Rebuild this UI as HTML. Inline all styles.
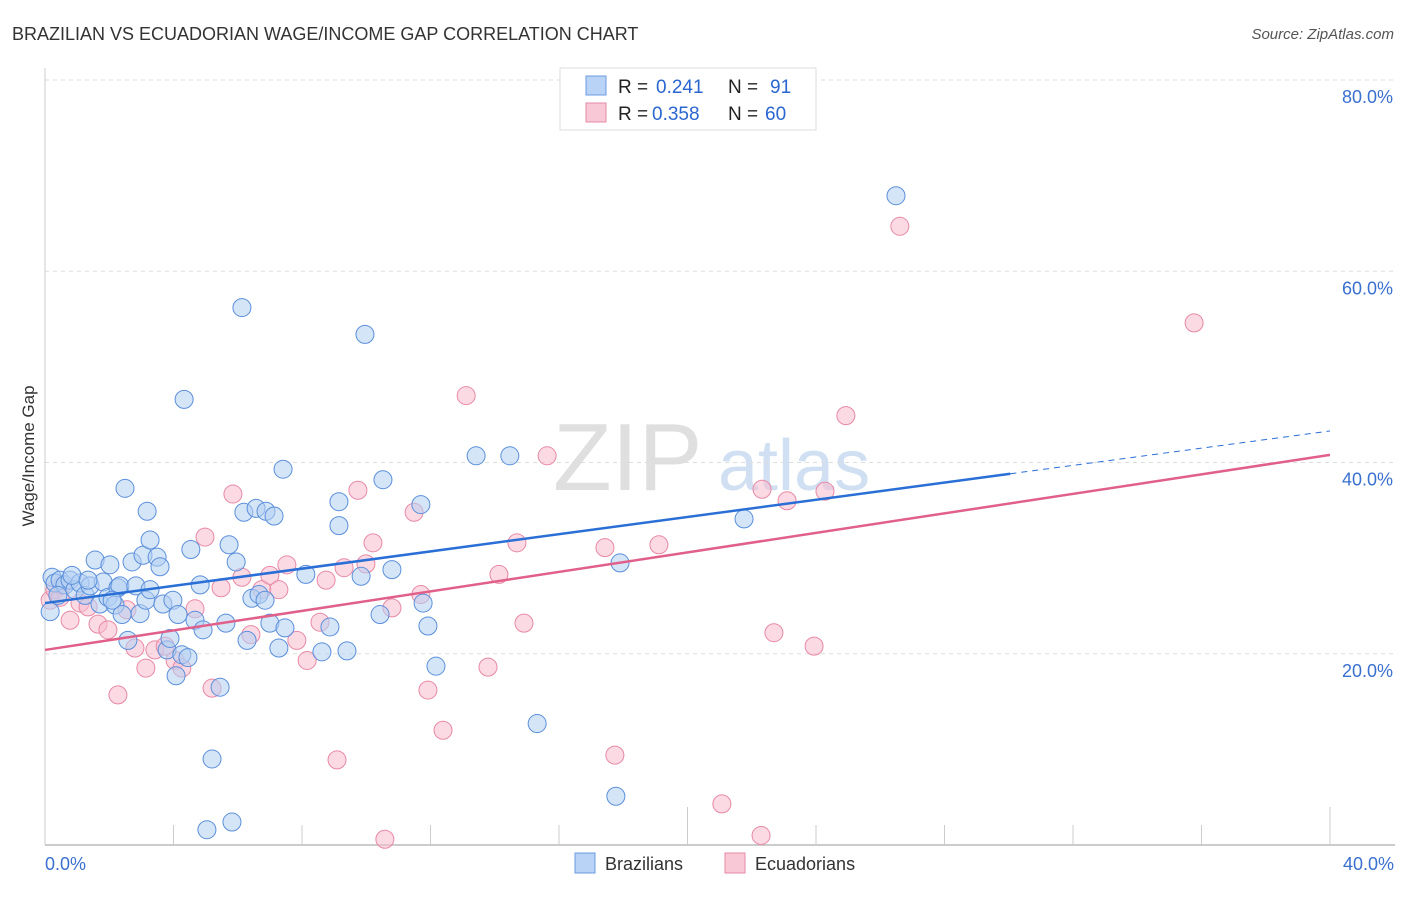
<!DOCTYPE html>
<html><head><meta charset="utf-8"><style>
body{margin:0;background:#fff;font-family:"Liberation Sans",sans-serif;}
svg text{font-family:"Liberation Sans",sans-serif;}
</style></head><body>
<svg id="chart" width="1406" height="892" xmlns="http://www.w3.org/2000/svg">
<text x="12" y="40" font-size="18" fill="#333">BRAZILIAN VS ECUADORIAN WAGE/INCOME GAP CORRELATION CHART</text>
<text x="1394" y="39" font-size="15" fill="#555" text-anchor="end" font-style="italic">Source: ZipAtlas.com</text>
<text x="553" y="490" font-size="96" fill="#d8d8d8" font-family="Liberation Serif" opacity="0.8">ZIP</text>
<text x="718" y="490" font-size="72" fill="#c5d9ef" opacity="0.8">atlas</text>
<text transform="translate(34,456) rotate(-90)" font-size="17" fill="#333" text-anchor="middle">Wage/Income Gap</text>
<g id="grid"></g><g id="pts"></g><g id="lines"></g>
<g>
<rect x="560" y="68" width="256" height="62" fill="#fff" stroke="#ddd"/>
<rect x="586" y="76" width="20" height="19" fill="#b8d3f5" stroke="#6a9be0"/>
<rect x="586" y="103" width="20" height="19" fill="#f9c8d6" stroke="#e58aa6"/>
<text x="618" y="93" font-size="19" fill="#222">R =</text>
<text x="656" y="93" font-size="19" fill="#2a66d0">0.241</text>
<text x="728" y="93" font-size="19" fill="#222">N =</text>
<text x="770" y="93" font-size="19" fill="#2a66d0">91</text>
<text x="618" y="120" font-size="19" fill="#222">R =</text>
<text x="652" y="120" font-size="19" fill="#2a66d0">0.358</text>
<text x="728" y="120" font-size="19" fill="#222">N =</text>
<text x="765" y="120" font-size="19" fill="#2a66d0">60</text>
</g>
<g>
<rect x="575" y="853" width="20" height="20" fill="#b8d3f5" stroke="#6a9be0"/>
<text x="605" y="870" font-size="18" fill="#333">Brazilians</text>
<rect x="725" y="853" width="20" height="20" fill="#f9c8d6" stroke="#e58aa6"/>
<text x="755" y="870" font-size="18" fill="#333">Ecuadorians</text>
</g>
<text x="45" y="870" font-size="18" fill="#3a70d0">0.0%</text>
<text x="1394" y="870" font-size="18" fill="#3a70d0" text-anchor="end">40.0%</text>
</svg>
<script>
const yTicks=[20,40,60,80];
const yTickLabels=["20.0%","40.0%","60.0%","80.0%"];
const xTicks=[0,4,8,12,16,20,24,28,32,36,40];
const braX=[.16,.22,.31,.47,.62,.78,.93,1.09,1.25,1.40,1.56,1.71,1.81,1.96,2.02,2.18,2.27,2.33,2.40,2.49,2.58,2.71,2.83,2.96,3.05,3.14,3.18,3.27,3.49,3.58,3.67,3.80,3.89,3.98,4.08,4.14,4.26,4.33,4.45,4.54,4.67,4.83,4.92,5.04,5.20,5.45,5.63,5.73,5.82,5.95,6.13,6.19,6.29,6.44,6.57,6.66,6.88,7.00,7.13,7.28,7.41,7.47,8.12,8.62,8.87,9.15,9.15,9.40,9.84,9.96,10.43,10.52,10.80,11.70,11.77,11.92,12.17,13.42,14.47,15.32,17.77,17.90,21.76,26.49,.40,.84,1.34,2.09,3.27,6.85];
const braY=[24.4,28.0,27.4,27.7,27.2,27.7,26.7,27.4,26.1,27.1,29.8,25.2,27.5,25.9,29.3,25.1,26.9,27.1,24.1,37.3,21.4,29.6,27.1,24.2,30.3,25.6,34.9,31.9,30.1,29.1,25.2,20.4,21.6,25.6,17.7,24.1,19.9,46.6,19.6,30.9,23.5,27.2,22.5,1.6,9.0,16.5,23.2,31.4,2.4,29.6,56.2,34.8,21.4,25.8,35.2,26.2,34.9,23.2,34.4,20.6,39.3,22.7,28.3,20.2,22.8,35.9,33.4,20.3,28.1,53.4,24.1,38.2,28.8,35.6,25.3,22.9,18.7,40.7,40.7,12.7,5.1,29.5,34.1,67.9,26.1,28.2,27.7,25.6,26.7,25.6];
const ecuX=[.16,.31,.47,.78,1.09,1.34,1.65,1.96,2.27,2.55,2.80,3.14,3.42,3.74,4.05,4.26,4.67,4.98,5.20,5.48,5.85,6.13,6.41,6.75,7.00,7.28,7.53,7.84,8.16,8.56,8.75,9.09,9.31,9.74,9.99,10.21,10.58,10.80,11.49,11.70,11.92,12.39,13.11,13.79,14.13,14.69,14.91,15.63,17.43,17.74,19.11,21.07,22.29,22.32,22.69,23.10,23.94,24.28,24.93,26.61,35.77,.53];
const ecuY=[25.6,26.7,25.9,23.5,25.3,24.9,23.1,22.5,15.7,24.6,20.6,18.5,20.4,20.8,19.3,18.5,24.7,32.2,16.4,26.9,36.7,28.0,22.0,26.7,28.2,26.7,29.3,21.4,19.3,23.3,27.7,8.9,29.0,37.1,29.4,31.6,0.6,24.8,34.8,26.2,16.2,12.0,47.0,18.6,28.3,31.6,23.2,40.7,31.1,9.4,31.4,4.3,1.0,37.2,22.2,36.0,20.8,37.0,44.9,64.7,54.6,27.2];
const braTrend=[25.3,43.3];
const ecuTrend=[20.4,40.8];
const X0=45,X1=1330,Y0=845,Y80=80;
const sx=v=>X0+(X1-X0)*v/40;
const sy=v=>Y0-(Y0-Y80)*v/80;
const NS="http://www.w3.org/2000/svg";
function mk(tag,attrs,parent){const e=document.createElementNS(NS,tag);for(const k in attrs)e.setAttribute(k,attrs[k]);parent.appendChild(e);return e;}
const grid=document.getElementById('grid');
yTicks.forEach((t,i)=>{
 const l=mk('line',{x1:45,x2:1395,y1:sy(t),y2:sy(t),stroke:'#ddd','stroke-dasharray':'4,4'},grid);
 
 
 const tx=mk('text',{x:1393,y:sy(t)+23,'font-size':18,fill:'#3a70d0','text-anchor':'end'},grid);
 tx.textContent=yTickLabels[i];
 
 
});
const ax=mk('line',{x1:45,x2:1395,y1:Y0,y2:Y0,stroke:'#bbb','stroke-width':1.5},grid);


const ay=mk('line',{x1:45,x2:45,y1:68,y2:Y0,stroke:'#ccc'},grid);


xTicks.forEach((t,i)=>{
 const tall=(t===20||t===40);
 const l=mk('line',{x1:sx(t),x2:sx(t),y1:tall?Y0-38:Y0-20,y2:Y0,stroke:'#ccc'},grid);
 
 
});
const pts=document.getElementById('pts');
function drawPts(xs,ys,fill,stroke,name){
 xs.forEach((x,i)=>{
  const c=mk('circle',{cx:sx(x),cy:sy(ys[i]),r:9,fill:fill,'fill-opacity':0.55,stroke:stroke,'stroke-width':1},pts);
  
  
 });
}
drawPts(ecuX,ecuY,'#f7bccd','#e889a6','ecuadorian-point');
drawPts(braX,braY,'#b3cff3','#5b8fdb','brazilian-point');
const lines=document.getElementById('lines');
const bEnd=30.05, bAt=x=>braTrend[0]+(braTrend[1]-braTrend[0])*x/40;
const bl=mk('line',{x1:sx(0),y1:sy(bAt(0)),x2:sx(bEnd),y2:sy(bAt(bEnd)),stroke:'#2a6fd6','stroke-width':2.5},lines);


const bd=mk('line',{x1:sx(bEnd),y1:sy(bAt(bEnd)),x2:sx(40),y2:sy(bAt(40)),stroke:'#2a6fd6','stroke-width':1,'stroke-dasharray':'6,5'},lines);


const el=mk('line',{x1:sx(0),y1:sy(ecuTrend[0]),x2:sx(40),y2:sy(ecuTrend[1]),stroke:'#e0608a','stroke-width':2.5},lines);


</script>
</body></html>
